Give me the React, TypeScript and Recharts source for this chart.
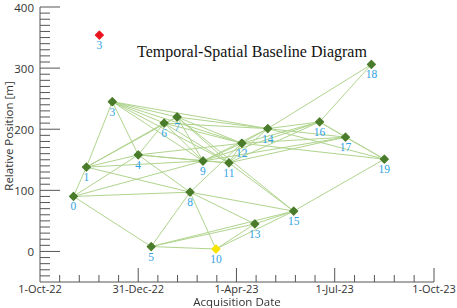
import React from "react";
import {
  ScatterChart,
  Scatter,
  XAxis,
  YAxis,
  ReferenceLine,
} from "recharts";

// days since 1-Oct-22
const dates = [31, 43, 67, 91, 103, 115, 127, 139, 151, 163, 175, 187, 199, 211, 235, 259, 283, 307, 319];
const positions = [90, 138, 245, 158, 8, 210, 220, 97, 148, 4, 145, 177, 45, 201, 66, 212, 187, 306, 151];
const labels = ["0", "1", "3", "4", "5", "6", "7", "8", "9", "10", "11", "12", "13", "14", "15", "16", "17", "18", "19"];

const refDate = 55;
const refPosition = 354;
const refLabel = "3";
const yellowLabel = "10";

// pairs of labels
const edges: [string, string][] = [
  ["0", "1"], ["0", "4"], ["0", "5"], ["0", "8"], ["0", "9"],
  ["1", "3"], ["1", "4"], ["1", "6"], ["1", "7"], ["1", "8"], ["1", "9"],
  ["3", "4"], ["3", "6"], ["3", "7"], ["3", "9"], ["3", "11"], ["3", "12"], ["3", "14"],
  ["4", "6"], ["4", "8"], ["4", "9"], ["4", "11"], ["4", "12"],
  ["5", "8"], ["5", "10"], ["5", "13"], ["5", "15"],
  ["6", "7"], ["6", "9"], ["6", "11"], ["6", "12"], ["6", "14"],
  ["7", "9"], ["7", "11"], ["7", "12"], ["7", "14"], ["7", "15"],
  ["8", "10"], ["8", "13"], ["8", "15"], ["8", "12"],
  ["9", "11"], ["9", "12"], ["9", "14"], ["9", "16"], ["9", "17"],
  ["10", "13"], ["10", "15"],
  ["11", "12"], ["11", "14"], ["11", "15"], ["11", "16"], ["11", "17"],
  ["12", "14"], ["12", "16"], ["12", "17"], ["12", "19"],
  ["13", "15"],
  ["14", "16"], ["14", "17"], ["14", "18"], ["14", "19"],
  ["15", "19"],
  ["16", "17"], ["16", "18"], ["16", "19"],
  ["17", "19"],
];

const xMajorTicks = [0, 91, 182, 273, 365];
const xTickLabels = ["1-Oct-22", "31-Dec-22", "1-Apr-23", "1-Jul-23", "1-Oct-23"];

const xTicks: number[] = [];
for (let i = 0; i < xMajorTicks.length - 1; i++) {
  const a = xMajorTicks[i];
  const b = xMajorTicks[i + 1];
  for (let k = 0; k < 5; k++) xTicks.push(a + ((b - a) * k) / 5);
}
xTicks.push(365);
const yTicks: number[] = [];
for (let v = -40; v <= 400; v += 10) yTicks.push(v);

const points = dates.map((d, i) => ({ x: d, y: positions[i], label: labels[i] }));
const byLabel: Record<string, { x: number; y: number }> = {};
points.forEach((p) => (byLabel[p.label] = p));

const SANS = "'Open Sans', 'DejaVu Sans', sans-serif";
const SERIF = "'Liberation Serif', 'Times New Roman', serif";
const AXIS = "#555";
const LINE = "#b0d48e";
const LABEL = "#2fa3e3";

const Diamond = (props: any) => {
  const { cx, cy, payload, fill } = props;
  const r = 4;
  let color = fill;
  if (payload.label === yellowLabel && payload.y < 20) color = "#f5e500";
  return (
    <g>
      <polygon
        points={`${cx},${cy - r} ${cx + r},${cy} ${cx},${cy + r} ${cx - r},${cy}`}
        fill={color}
        stroke={color}
        strokeWidth={1.2}
        strokeLinejoin="round"
      />
      <text x={cx} y={cy + 14} textAnchor="middle" fill={LABEL} fontSize={11.5} fontFamily={SERIF}>
        {payload.label}
      </text>
    </g>
  );
};

const YTick = (props: any) => {
  const { x, y, payload } = props;
  const major = payload.value % 100 === 0;
  return (
    <g>
      <line x1={x} x2={x + (major ? 20 : 10)} y1={y} y2={y} stroke={AXIS} strokeWidth={1} />
      {major && (
        <text x={x - 6} y={y + 4.5} textAnchor="end" fill="#333" fontSize={11.5} fontFamily={SANS}>
          {payload.value}
        </text>
      )}
    </g>
  );
};

const XTick = (props: any) => {
  const { x, y, payload } = props;
  const idx = xMajorTicks.indexOf(payload.value);
  const major = idx >= 0;
  return (
    <g>
      {payload.value > 0 && (
        <line x1={x} x2={x} y1={y} y2={y - (major ? 14 : 7)} stroke={AXIS} strokeWidth={1} />
      )}
      {major && (
        <text x={x} y={y + 10.5} textAnchor="middle" fill="#333" fontSize={11} fontFamily={SANS}>
          {xTickLabels[idx]}
        </text>
      )}
    </g>
  );
};

export default function App() {
  return (
    <div style={{ position: "fixed", left: 0, top: 0, width: 457, height: 308, background: "#fff" }}>
      <ScatterChart width={457} height={308} margin={{ top: 7, right: 23, left: 0, bottom: 0 }}>
        <XAxis
          type="number"
          dataKey="x"
          domain={[0, 365]}
          ticks={xTicks}
          interval={0}
          tick={<XTick />}
          tickLine={false}
          tickSize={0}
          tickMargin={0}
          height={26}
          stroke={AXIS}
          allowDataOverflow
        />
        <YAxis
          type="number"
          dataKey="y"
          domain={[-50, 400]}
          ticks={yTicks}
          interval={0}
          tick={<YTick />}
          tickLine={false}
          tickSize={0}
          tickMargin={0}
          width={40}
          stroke={AXIS}
          allowDataOverflow
        />
        {edges.map(([a, b], i) => (
          <ReferenceLine
            key={i}
            segment={[
              { x: byLabel[a].x, y: byLabel[a].y },
              { x: byLabel[b].x, y: byLabel[b].y },
            ]}
            stroke={LINE}
            strokeWidth={1}
          />
        ))}
        <Scatter data={points} fill="#4a7b2a" shape={<Diamond />} isAnimationActive={false} />
        <Scatter
          data={[{ x: refDate, y: refPosition, label: refLabel }]}
          fill="#e8141c"
          shape={<Diamond />}
          isAnimationActive={false}
        />
      </ScatterChart>
      <div
        style={{
          position: "absolute",
          left: 137,
          top: 42,
          width: 220,
          textAlign: "center",
          fontFamily: SERIF,
          fontSize: 16,
          color: "#111",
          whiteSpace: "nowrap",
          lineHeight: "20px",
        }}
      >
        Temporal-Spatial Baseline Diagram
      </div>
      <div
        style={{
          position: "absolute",
          left: 137,
          top: 296,
          width: 200,
          textAlign: "center",
          fontFamily: SANS,
          fontSize: 11.5,
          color: "#333",
          lineHeight: "12px",
        }}
      >
        Acquisition Date
      </div>
      <div
        style={{
          position: "absolute",
          left: 8,
          top: 136,
          transform: "translate(-50%, -50%) rotate(-90deg)",
          fontFamily: SANS,
          fontSize: 11.5,
          color: "#333",
          whiteSpace: "nowrap",
          lineHeight: "13px",
        }}
      >
        Relative Position [m]
      </div>
    </div>
  );
}
